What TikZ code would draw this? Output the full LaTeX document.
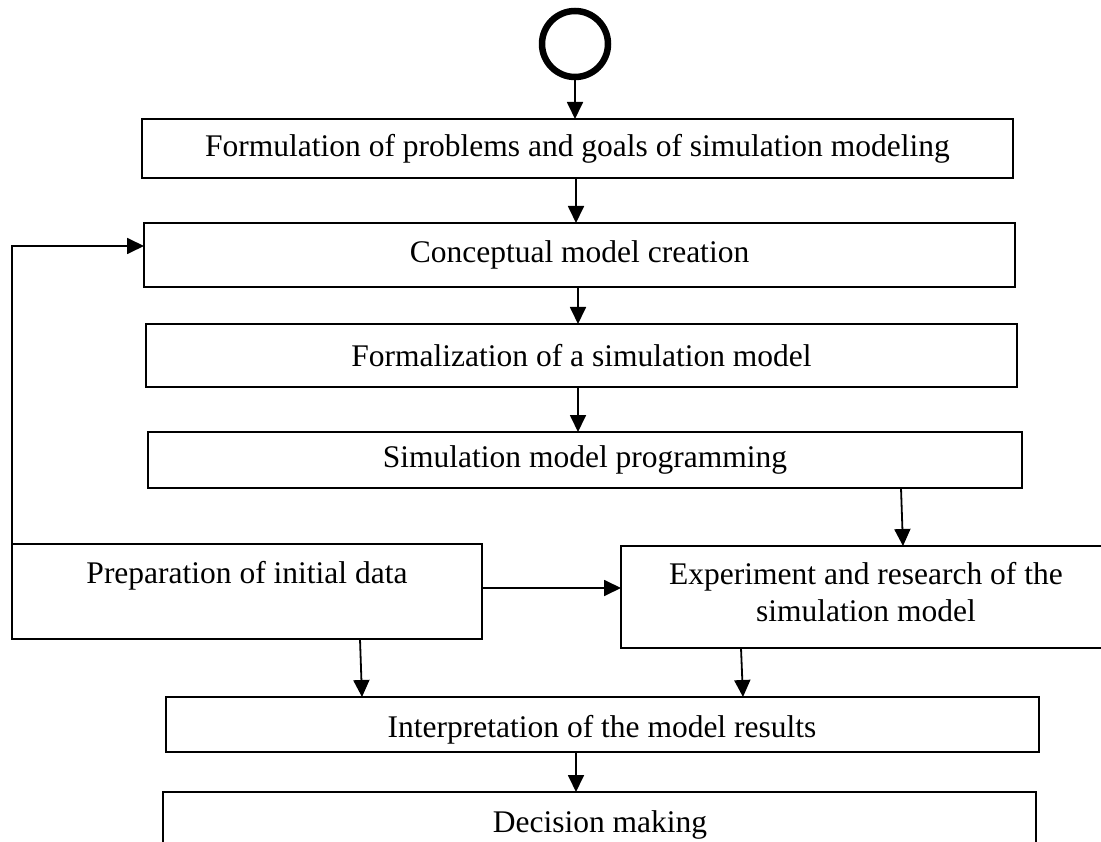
\documentclass[tikz,border=0pt]{standalone}
\usepackage{fontspec}
\setmainfont{Liberation Serif}
\usetikzlibrary{arrows.meta}
\newcommand{\boxfont}{\fontsize{31.5}{37.8}\selectfont}
\begin{document}
\begin{tikzpicture}[x=1pt,y=-1pt,
  box/.style={draw, line width=1.8pt, inner sep=0pt, outer sep=0pt, anchor=north west, font=\boxfont},
  arr/.style={line width=1.8pt, -{Triangle[length=17pt,width=16pt]}},
  txt/.style={font=\boxfont, inner sep=0pt, align=center}]
\useasboundingbox (0,0) rectangle (1101,842);
% start circle
\node[draw, circle, line width=6.5pt, minimum size=66pt, inner sep=0pt] (start) at (575,44) {};
% boxes
\node[box, minimum width=871pt, minimum height=59pt] (b1) at (142,119) {};
\node[txt, anchor=base] (t1) at (577.5,157) {Formulation of problems and goals of simulation modeling};
\node[box, minimum width=871pt, minimum height=64pt] (b2) at (144,223) {};
\node[txt] (t2) at (b2.center) {Conceptual model creation};
\node[box, minimum width=871pt, minimum height=63pt] (b3) at (146,324) {};
\node[txt] (t3) at (b3.center) {Formalization of a simulation model};
\node[box, minimum width=874pt, minimum height=56pt] (b4) at (148,432) {};
\node[txt] (t4) at (b4.center) {Simulation model programming};
\node[box, minimum width=470pt, minimum height=95pt] (prep) at (12,544) {};
\node[txt, anchor=base] (tp) at (247,583) {Preparation of initial data};
\node[box, minimum width=490pt, minimum height=102pt] (exp) at (621,546) {};
\node[txt] (te) at (866,592) {Experiment and research of the\\simulation model};
\node[box, minimum width=873pt, minimum height=55pt] (interp) at (166,697) {};
\node[txt, anchor=base] (ti) at (602,737) {Interpretation of the model results};
\node[box, minimum width=873pt, minimum height=100pt] (dec) at (163,792) {};
\node[txt, anchor=base] (td) at (600,832) {Decision making};
% connectors
\draw[arr] (start.south) -- (start.south |- b1.north);
\draw[arr] ([xshift=-1.5pt]b1.south) -- ([xshift=-1.5pt]b1.south |- b2.north);
\draw[arr] ([xshift=-1.5pt]b2.south) -- ([xshift=-1.5pt]b2.south |- b3.north);
\draw[arr] ([xshift=-3.5pt]b3.south) -- ([xshift=-3.5pt]b3.south |- b4.north);
\draw[arr] ([xshift=316pt]b4.south) -- ([xshift=282pt]exp.north west);
\draw[arr] ([yshift=3.5pt]prep.east) -- ([yshift=3.5pt]prep.east -| exp.west);
\draw[arr] ([xshift=113pt]prep.south) -- ([xshift=115pt]prep.south |- interp.north);
\draw[arr] ([xshift=-125pt]exp.south) -- ([xshift=-123pt]exp.south |- interp.north);
\draw[arr] ([xshift=-26.5pt]interp.south) -- ([xshift=-26.5pt]interp.south |- dec.north);
\draw[arr] ([yshift=1.5pt]prep.west) |- ([yshift=9pt]b2.west);
\end{tikzpicture}
\end{document}
